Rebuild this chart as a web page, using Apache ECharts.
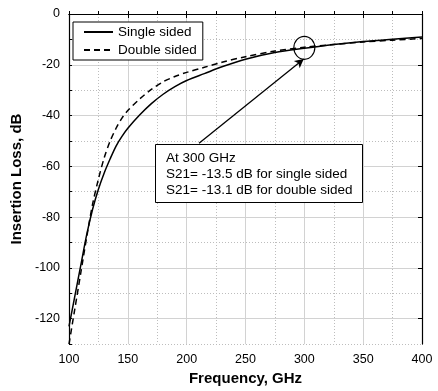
<!DOCTYPE html>
<html><head><meta charset="utf-8">
<script src="https://cdn.jsdelivr.net/npm/echarts@6/dist/echarts.min.js"></script>
<style>html,body{margin:0;padding:0;background:#fff}#c{width:438px;height:391px}</style>
</head><body><div id="c"></div>
<script>
// Data
const freqSingle = [100,105,110,115,120,125,130,135,140,145,150,160,170,180,190,200,215,230,250,275,300,325,350,375,400];
const lossSingle = [-123,-111,-99,-87,-77,-69,-62.5,-57,-52,-48.2,-45,-39.8,-35.3,-31.6,-28.6,-26.2,-23.5,-20.8,-17.8,-15.2,-13.5,-12,-10.8,-9.9,-9.1];
const freqDouble = [100,105,110,115,120,125,130,135,140,145,150,160,170,180,190,200,215,230,250,275,300,325,350,375,400];
const lossDouble = [-130,-116,-102,-88,-75,-65,-56.5,-50,-45,-41,-38,-33.5,-29.7,-26.7,-24.6,-23,-21,-19,-16.8,-14.6,-13.1,-12,-11,-10.3,-9.6];
const seriesNames = ['Single sided','Double sided'];
const xLabels = [100,150,200,250,300,350,400];
const yLabels = [0,-20,-40,-60,-80,-100,-120];
const annotLines = ['At 300 GHz','S21= -13.5 dB for single sided','S21= -13.1 dB for double sided'];
const highlightPoint = [300,-13.3];
const arrowFrom = [210.5,-50.9];
const arrowTo = [299.5,-17.7];

const font = 'Liberation Sans, Arial, Helvetica, sans-serif';
const chart = echarts.init(document.getElementById('c'));
const pair = (xs, ys) => xs.map((x,i)=>[x, ys[i]]);
chart.setOption({
  animation:false,
  textStyle:{fontFamily:font},
  grid:{left:69,right:16,top:14,bottom:45},
  legend:{
    orient:'vertical', left:73, top:22, padding:[3,6,3,10], itemGap:4,
    borderColor:'#000', borderWidth:1, backgroundColor:'#fff',
    itemWidth:29, itemHeight:12,
    itemStyle:{opacity:0},
    textStyle:{fontFamily:font,fontSize:13.5,color:'#000'},
    data:seriesNames
  },
  xAxis:[{
    type:'value', min:100, max:400, interval:25, position:'bottom',
    name:'Frequency, GHz', nameLocation:'middle', nameGap:26,
    nameTextStyle:{fontFamily:font,fontSize:15,fontWeight:'bold',color:'#000'},
    axisLine:{lineStyle:{color:'#000',width:1.2}},
    axisTick:{inside:true,length:3,lineStyle:{color:'#000'}},
    axisLabel:{margin:9,fontSize:12.5,color:'#000',fontFamily:font,
      formatter:v=>xLabels.indexOf(v)>=0?String(v):''},
    splitLine:{show:true,lineStyle:{color:'#bdbdbd',type:[1,2],width:1}}
  },{
    type:'value', min:100, max:400, interval:50, position:'top',
    axisLine:{show:true,lineStyle:{color:'#000',width:1.2}},
    axisTick:{show:true,inside:true,length:4,lineStyle:{color:'#000'}},
    axisLabel:{show:false},
    splitLine:{show:true,lineStyle:{color:'#d2d2d2',width:1}}
  }],
  yAxis:[{
    type:'value', min:-130, max:0, interval:10, position:'left',
    name:'Insertion Loss, dB', nameLocation:'middle', nameGap:44,
    nameTextStyle:{fontFamily:font,fontSize:15,fontWeight:'bold',color:'#000'},
    axisLine:{show:true,lineStyle:{color:'#000',width:1.2}},
    axisTick:{show:true,inside:true,length:3,lineStyle:{color:'#000'}},
    axisLabel:{margin:9,fontSize:12.5,color:'#000',fontFamily:font,
      formatter:v=>yLabels.indexOf(v)>=0?String(v):''},
    splitLine:{show:true,lineStyle:{color:'#bdbdbd',type:[1,2],width:1}}
  },{
    type:'value', min:-130, max:0, position:'right',
    axisLine:{show:true,lineStyle:{color:'#000',width:1.2}},
    axisTick:{show:true,inside:true,length:4,lineStyle:{color:'#000'},customValues:yLabels},
    axisLabel:{show:false,customValues:yLabels},
    splitLine:{show:true,lineStyle:{color:'#d2d2d2',width:1}}
  }],
  series:[{
    name:seriesNames[0], type:'line', data:pair(freqSingle,lossSingle),
    symbol:'none', smooth:0.3, z:5,
    lineStyle:{color:'#000',width:1.5},
    itemStyle:{color:'#000'},
    markPoint:{
      symbol:'circle', symbolSize:[21,23], silent:true,
      itemStyle:{color:'rgba(0,0,0,0)',borderColor:'#000',borderWidth:1.2,opacity:1},
      label:{show:false},
      data:[{coord:highlightPoint}]
    },
    markLine:{
      silent:true, symbol:['none','arrow'], symbolSize:[7,9],
      lineStyle:{color:'#000',width:1.3,type:'solid'},
      label:{show:false},
      data:[[{coord:arrowFrom},{coord:arrowTo}]]
    }
  },{
    name:seriesNames[1], type:'line', data:pair(freqDouble,lossDouble),
    symbol:'none', smooth:0.3, z:4,
    lineStyle:{color:'#000',width:1.5,type:[6,4]},
    itemStyle:{color:'#000'}
  }],
  graphic:[{
    type:'rect', left:155, top:144, z:100,
    shape:{x:0,y:0,width:207,height:58},
    style:{fill:'#fff',stroke:'#000',lineWidth:1}
  },{
    type:'text', left:166, top:150, z:101,
    style:{text:annotLines.join('\n'),font:'13.5px '+font,fill:'#000',lineHeight:16}
  }]
});
</script></body></html>
